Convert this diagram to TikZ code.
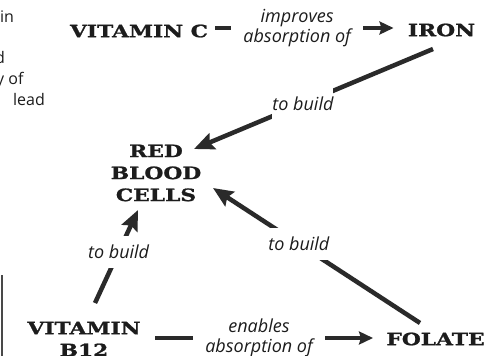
\documentclass[tikz,border=0pt]{standalone}
\usepackage{fontspec}
\usetikzlibrary{arrows.meta}
\newfontfamily\titlefont[FakeStretch=1.28, FakeBold=1.2]{DejaVu Serif}
\newfontfamily\lblfont{Open Sans}
\definecolor{ink}{HTML}{1C1C1C}
\definecolor{arrowc}{HTML}{2A2A2A}
\begin{document}
\begin{tikzpicture}[x=1pt,y=-1pt,
  title/.style={font=\titlefont\bfseries\fontsize{17}{22}\selectfont, text=ink, align=center, inner sep=0pt, outer sep=0pt},
  lbl/.style={font=\lblfont\itshape\fontsize{18}{20}\selectfont, text=ink, align=center, fill=white, inner xsep=12pt, inner ysep=2pt},
  lbltwo/.style={font=\lblfont\itshape\fontsize{18}{20}\selectfont, text=ink, fill=white, inner xsep=0pt, inner ysep=9pt},
  frag/.style={font=\lblfont\fontsize{16}{20}\selectfont, text=ink, anchor=base west, inner sep=0pt},
  conn/.style={draw=arrowc, line width=4.5pt},
  bighead/.style={-{Stealth[length=20pt,width=17pt,inset=3pt]}},
  smallhead/.style={-{Stealth[length=14pt,width=13pt,inset=2pt]}}]
\useasboundingbox (0,0) rectangle (485,356);
\clip (0,0) rectangle (485,356);
\fill[white] (0,0) rectangle (485,356);
% cropped text fragments at left
\node[frag] (f1) at (0,22) {in};
\node[frag] (f2) at (-5,63) {d};
\node[frag] (f3) at (-4,84) {y of};
\node[frag] (f4) at (13,105) {lead};
\coordinate (ltop) at (1.5,275);
\coordinate (lbot) at (1.5,356);
\draw[line width=2pt, draw=ink!80] (ltop) -- (lbot);
% main nodes
\node[title] (vitc) at (139,31) {VITAMIN C};
\node[title] (iron) at (441.5,30) {IRON};
\node[title] (rbc) at (156,173) {RED\\BLOOD\\CELLS};
\node[title] (b12) at (84,339) {VITAMIN\\B12};
\node[title] (folate) at (435.5,339) {FOLATE};
% connectors
\draw[conn, smallhead] ([shift={(76,-3)}]vitc.center) -- node[lbl, pos=0.46]{improves\\absorption of} ([shift={(-48,-2)}]iron.center);
\draw[conn, smallhead] ([shift={(71,-1)}]b12.center) -- node[lbl, pos=0.477]{enables\\absorption of} ([shift={(-62.5,-1)}]folate.center);
\draw[conn, bighead] ([shift={(-8.5,19)}]iron.center) -- node[lbltwo, pos=0.544]{to build} ([shift={(38,-24)}]rbc.center);
\draw[conn, bighead] ([shift={(-15.5,-16)}]folate.center) -- node[lbltwo, pos=0.585]{to build} ([shift={(57,15)}]rbc.center);
\draw[conn, bighead] ([shift={(11,-36)}]b12.center) -- node[lbltwo, pos=0.55]{to build} ([shift={(-18,37)}]rbc.center);
\end{tikzpicture}
\end{document}
